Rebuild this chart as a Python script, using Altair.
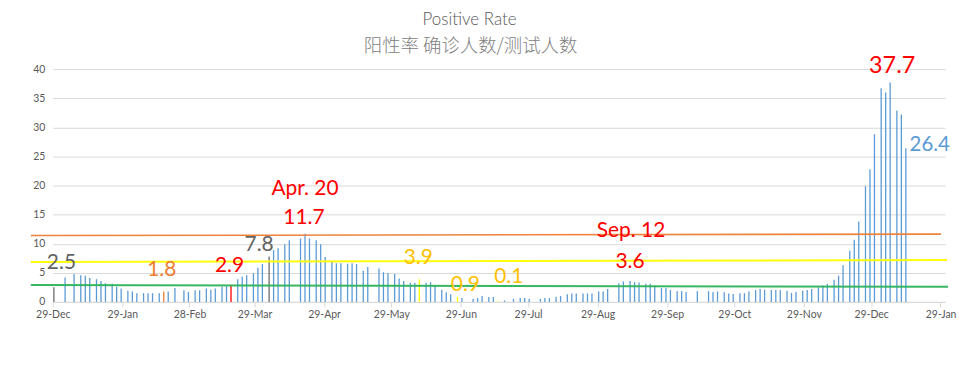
import altair as alt
import pandas as pd

# ---------------- data ----------------
dates = [
    "2020-12-29", "2021-01-03", "2021-01-07", "2021-01-10", "2021-01-12", "2021-01-14", "2021-01-17",
    "2021-01-19", "2021-01-21", "2021-01-24", "2021-01-26", "2021-01-28", "2021-01-31",
    "2021-02-02", "2021-02-04", "2021-02-07", "2021-02-09", "2021-02-11", "2021-02-14", "2021-02-16",
    "2021-02-18", "2021-02-21", "2021-02-25", "2021-02-27",
    "2021-03-02", "2021-03-04", "2021-03-07", "2021-03-09", "2021-03-11", "2021-03-14", "2021-03-16",
    "2021-03-18", "2021-03-21", "2021-03-23", "2021-03-25", "2021-03-28", "2021-03-30",
    "2021-04-01", "2021-04-04", "2021-04-06", "2021-04-08", "2021-04-11", "2021-04-13", "2021-04-18",
    "2021-04-20", "2021-04-22", "2021-04-25", "2021-04-27", "2021-04-29",
    "2021-05-02", "2021-05-04", "2021-05-06", "2021-05-09", "2021-05-11", "2021-05-13", "2021-05-16",
    "2021-05-18", "2021-05-23", "2021-05-25", "2021-05-27", "2021-05-30",
    "2021-06-01", "2021-06-03", "2021-06-06", "2021-06-08", "2021-06-10", "2021-06-13", "2021-06-15",
    "2021-06-17", "2021-06-20", "2021-06-22", "2021-06-24", "2021-06-27", "2021-06-29",
    "2021-07-04", "2021-07-06", "2021-07-08", "2021-07-11", "2021-07-13", "2021-07-15", "2021-07-18",
    "2021-07-22", "2021-07-25", "2021-07-27", "2021-07-29",
    "2021-08-03", "2021-08-05", "2021-08-07", "2021-08-10", "2021-08-12", "2021-08-15", "2021-08-17",
    "2021-08-19", "2021-08-22", "2021-08-24", "2021-08-26", "2021-08-29", "2021-08-31",
    "2021-09-02", "2021-09-07", "2021-09-09", "2021-09-12", "2021-09-14", "2021-09-16", "2021-09-19",
    "2021-09-21", "2021-09-23", "2021-09-26", "2021-09-28", "2021-09-30",
    "2021-10-03", "2021-10-05", "2021-10-07", "2021-10-12", "2021-10-17", "2021-10-19", "2021-10-21",
    "2021-10-24", "2021-10-26", "2021-10-28", "2021-10-31",
    "2021-11-02", "2021-11-04", "2021-11-07", "2021-11-09", "2021-11-11", "2021-11-14", "2021-11-16",
    "2021-11-18", "2021-11-21", "2021-11-23", "2021-11-25", "2021-11-28", "2021-11-30",
    "2021-12-02", "2021-12-05", "2021-12-07", "2021-12-09", "2021-12-12", "2021-12-14", "2021-12-16",
    "2021-12-19", "2021-12-21", "2021-12-23", "2021-12-26", "2021-12-28", "2021-12-30",
    "2022-01-02", "2022-01-04", "2022-01-06", "2022-01-09", "2022-01-11", "2022-01-13",
]

values = [
    2.5, 4.2, 4.8, 4.6, 4.5, 4.1, 3.9, 3.6, 3.2, 3.1, 2.6, 2.3, 1.9,
    1.8, 1.5, 1.5, 1.5, 1.5, 1.5, 1.8, 1.8, 2.4, 2.0, 1.7,
    2.0, 2.0, 2.3, 2.1, 2.3, 2.6, 2.7, 2.9, 3.9, 4.3, 4.6, 4.9, 5.85,
    6.5, 7.8, 8.9, 9.2, 9.9, 10.6, 10.9, 11.7, 10.9, 10.6, 9.9, 7.7,
    7.05, 6.65, 6.65, 6.55, 6.65, 6.5, 5.35, 6.0, 5.75, 5.1, 4.95, 4.8,
    4.0, 3.6, 3.3, 3.3, 3.9, 3.3, 3.4, 2.9, 2.1, 1.65, 1.3, 0.9, 0.65,
    0.5, 0.65, 1.0, 0.85, 0.85, 0.1, 0.25, 0.5, 0.65, 0.65, 0.5,
    0.5, 0.65, 0.65, 0.9, 1.0, 1.3, 1.45, 1.45, 1.45, 1.45, 1.45, 1.8, 1.8,
    2.2, 3.2, 3.5, 3.6, 3.4, 3.35, 3.1, 3.1, 2.8, 2.4, 2.4, 2.05,
    1.85, 1.85, 1.7, 1.85, 1.85, 1.7, 1.8, 1.65, 1.45, 1.35, 1.5,
    1.5, 1.8, 2.05, 2.2, 2.1, 2.05, 2.05, 2.05, 1.9, 1.55, 1.7, 1.9, 2.05,
    2.2, 2.5, 2.8, 3.1, 3.8, 4.5, 6.3, 8.8, 10.7, 13.8, 19.9, 22.8, 28.8,
    36.7, 36.0, 37.7, 32.9, 32.2, 26.4,
]

# highlighted bars
highlight_dates = ["2020-12-29", "2021-02-16", "2021-03-18", "2021-04-04", "2021-06-10", "2021-06-27", "2021-07-15"]
highlight_colors = ["#6b6b6b", "#ED7D31", "#FF0000", "#6b6b6b", "#FFFF00", "#FFFF00", "#FFFF00"]

# reference lines (value at left end, value at right end)
ref_start = [11.4, 6.85, 2.9]
ref_end = [11.65, 7.2, 2.6]
ref_colors = ["#ED7D31", "#FFFF00", "#2DB35B"]

# annotations
label_text = ["2.5", "1.8", "2.9", "7.8", "Apr. 20", "11.7", "3.9", "0.9", "0.1", "Sep. 12", "3.6", "37.7", "26.4"]
label_date = ["2020-12-29", "2021-02-16", "2021-03-18", "2021-04-04", "2021-04-20", "2021-04-20",
              "2021-06-10", "2021-06-27", "2021-07-15", "2021-09-12", "2021-09-12", "2022-01-06", "2022-01-13"]
label_value = [2.5, 1.8, 2.9, 7.8, 11.7, 11.7, 3.9, 0.9, 0.1, 3.6, 3.6, 37.7, 26.4]
label_color = ["#636363", "#ED7D31", "#FF0000", "#636363", "#FF0000", "#FF0000", "#FFC000", "#FFC000",
               "#FFC000", "#FF0000", "#FF0000", "#FF0000", "#5B9BD5"]

title_en = "Positive Rate"
title_zh = "阳性率 确诊人数/测试人数"

tick_dates = [(2020, 12, 29), (2021, 1, 29), (2021, 2, 28), (2021, 3, 29), (2021, 4, 29), (2021, 5, 29),
              (2021, 6, 29), (2021, 7, 29), (2021, 8, 29), (2021, 9, 29), (2021, 10, 29), (2021, 11, 29),
              (2021, 12, 29), (2022, 1, 29)]
y_ticks = [0, 5, 10, 15, 20, 25, 30, 35, 40]

# ---------------- styles ----------------
BLUE = "#5B9BD5"
FONT = "Lato"
AX = "#595959"
GRID = "#D9D9D9"

hl = dict(zip(highlight_dates, highlight_colors))
bars = pd.DataFrame({
    "date": [d + "T12:00:00Z" for d in dates],
    "value": values,
    "col": [hl.get(d, BLUE) for d in dates],
})

xscale = alt.Scale(type="utc", domain=[alt.DateTime(year=2020, month=12, date=29, utc=True),
                                       alt.DateTime(year=2022, month=1, date=31, utc=True)])
xaxis = alt.Axis(values=[alt.DateTime(year=y, month=m, date=d, utc=True) for (y, m, d) in tick_dates],
                 labelExpr="utcFormat(datum.value, '%d-%b')", grid=False, domainColor=GRID, tickColor=GRID,
                 tickSize=5, labelColor=AX, labelFont=FONT, labelFontSize=10.5, labelPadding=3,
                 labelOverlap=False, labelFlush=False)
yscale = alt.Scale(domain=[0, 40], nice=False, zero=True)
yaxis = alt.Axis(values=y_ticks, domain=False, ticks=False, gridColor=GRID, gridWidth=1,
                 labelColor=AX, labelFont=FONT, labelFontSize=10.5, labelPadding=8)

X = alt.X("date:T", scale=xscale, axis=xaxis, title=None)
Y = alt.Y("value:Q", scale=yscale, axis=yaxis, title=None)

bar_layer = alt.Chart(bars).mark_rule(strokeWidth=1.3).encode(
    x=X, y=Y, y2=alt.datum(0), color=alt.Color("col:N", scale=None)
)

layers = [bar_layer]

x_right = [893, 899, 900]
for s, e, c, xr in zip(ref_start, ref_end, ref_colors, x_right):
    df = pd.DataFrame({"value": [s], "value_end": [e]})
    layers.append(
        alt.Chart(df).mark_rule(color=c, strokeWidth=2 if c != "#ED7D31" else 1.6, opacity=0.95).encode(
            x=alt.value(-22), x2=alt.value(xr), y=Y, y2="value_end:Q"
        )
    )

offsets = [(7.6, -24), (-2, -21), (-1.5, -18.6), (-10, -11.7), (0, -45), (-1, -15.6), (-1, -21),
           (8, -12), (11, -24), (1, -50), (0, -19.5), (2, -17), (24, -3)]
sizes = [21, 21, 21, 21, 21, 21, 21, 21, 21, 21, 21, 23.5, 20.5]
for t, d, v, c, (dx, dy), fs in zip(label_text, label_date, label_value, label_color, offsets, sizes):
    df = pd.DataFrame({"date": [d + "T12:00:00Z"], "value": [v], "t": [t]})
    layers.append(
        alt.Chart(df).mark_text(color=c, font=FONT, fontSize=fs, dx=dx, dy=dy, align="center",
                                baseline="middle").encode(x=X, y=Y, text="t:N")
    )

layers.append(
    alt.Chart(pd.DataFrame({"t": [title_en]})).mark_text(
        font=FONT, fontSize=17, fontWeight=300, color="#595959", align="center", baseline="middle"
    ).encode(text="t:N", x=alt.value(419), y=alt.value(-49.5))
)
layers.append(
    alt.Chart(pd.DataFrame({"t": [title_zh]})).mark_text(
        font="Noto Sans CJK SC", fontSize=18.5, fontWeight=300, color="#808080", align="center",
        baseline="middle"
    ).encode(text="t:N", x=alt.value(420), y=alt.value(-23.5))
)

chart = alt.layer(*layers).properties(
    width=897, height=234,
    autosize=alt.AutoSizeParams(type="none"),
    padding={"left": 45, "top": 60.5, "right": 14, "bottom": 63},
    background="white",
).configure_view(strokeWidth=0)

chart.save("out.html", embed_options={"renderer": "svg", "actions": False})
